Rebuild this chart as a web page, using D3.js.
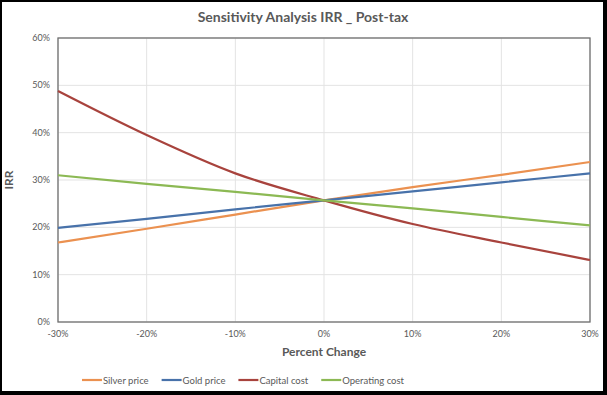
<!DOCTYPE html>
<html>
<head>
<meta charset="utf-8">
<script src="https://cdn.jsdelivr.net/npm/d3@7"></script>
<style>
  body { margin: 0; background: #000; }
  text { font-family: Lato, "Open Sans", Arial, sans-serif; fill: #595959; }
</style>
</head>
<body>
<div id="chart"></div>
<script>
const changes = [-0.3, -0.2, -0.1, 0, 0.1, 0.2, 0.3];
const silverPrice = [0.168, 0.197, 0.227, 0.257, 0.285, 0.311, 0.338];
const goldPrice = [0.199, 0.218, 0.238, 0.257, 0.276, 0.295, 0.314];
const capitalCost = [0.488, 0.395, 0.314, 0.257, 0.207, 0.168, 0.131];
const operatingCost = [0.310, 0.292, 0.275, 0.257, 0.240, 0.222, 0.204];
const xTicks = [-0.3, -0.2, -0.1, 0, 0.1, 0.2, 0.3];
const yTicks = [0, 0.1, 0.2, 0.3, 0.4, 0.5, 0.6];

const series = [
  {name: "Silver price", values: silverPrice, color: "#eb9150"},
  {name: "Gold price", values: goldPrice, color: "#4872aa"},
  {name: "Capital cost", values: capitalCost, color: "#a8433d"},
  {name: "Operating cost", values: operatingCost, color: "#8cb954"},
];

const w = 607, h = 395;
const m = {left: 58, right: 17, top: 38, bottom: 73};

const svg = d3.select("#chart").append("svg")
  .attr("width", w).attr("height", h);

// black frame like the screenshot
svg.append("rect").attr("width", w).attr("height", h).attr("fill", "#000");
svg.append("rect").attr("x", 2).attr("y", 2)
  .attr("width", 601).attr("height", 389).attr("fill", "#fff");

const x = d3.scaleLinear().domain([-0.3, 0.3]).range([m.left, w - m.right]);
const y = d3.scaleLinear().domain([0, 0.6]).range([h - m.bottom, m.top]);

// gridlines
svg.append("g").selectAll("line").data(yTicks).join("line")
  .attr("x1", m.left).attr("x2", w - m.right)
  .attr("y1", d => y(d)).attr("y2", d => y(d))
  .attr("stroke", "#e3e3e3").attr("stroke-width", 1);
svg.append("g").selectAll("line").data(xTicks).join("line")
  .attr("y1", m.top).attr("y2", h - m.bottom)
  .attr("x1", d => x(d)).attr("x2", d => x(d))
  .attr("stroke", "#e3e3e3").attr("stroke-width", 1);

// plot border
svg.append("rect")
  .attr("x", m.left).attr("y", m.top)
  .attr("width", w - m.left - m.right).attr("height", h - m.top - m.bottom)
  .attr("fill", "none").attr("stroke", "#707070").attr("stroke-width", 1.3);

// excel style labels use a plain hyphen
const pct = d => d3.format(".0%")(d).replace("\u2212", "-");

svg.append("g").selectAll("text").data(yTicks).join("text")
  .attr("x", m.left - 8).attr("y", d => y(d) + 3)
  .attr("text-anchor", "end").attr("font-size", 9)
  .text(pct);

svg.append("g").selectAll("text").data(xTicks).join("text")
  .attr("x", d => x(d)).attr("y", h - m.bottom + 15)
  .attr("text-anchor", "middle").attr("font-size", 9)
  .text(pct);

// lines
const line = d3.line()
  .x((d, i) => x(changes[i]))
  .y(d => y(d))
  .curve(d3.curveMonotoneX);

svg.append("g").selectAll("path").data(series).join("path")
  .attr("d", d => line(d.values))
  .attr("fill", "none")
  .attr("stroke", d => d.color)
  .attr("stroke-width", 2.2);

// titles
svg.append("text").attr("x", 303).attr("y", 22)
  .attr("text-anchor", "middle").attr("font-size", 14).attr("font-weight", "bold")
  .text("Sensitivity Analysis IRR _ Post-tax");

svg.append("text").attr("x", (m.left + w - m.right) / 2).attr("y", 356)
  .attr("text-anchor", "middle").attr("font-size", 12).attr("font-weight", "bold")
  .text("Percent Change");

svg.append("text")
  .attr("transform", `translate(13, ${(m.top + h - m.bottom) / 2}) rotate(-90)`)
  .attr("text-anchor", "middle").attr("font-size", 12).attr("font-weight", "bold")
  .text("IRR");

// legend: measure labels, then lay items out side by side, centred
const legend = svg.append("g");
const lg = legend.selectAll("g").data(series).join("g");
lg.append("line").attr("x1", 0).attr("x2", 20)
  .attr("stroke", d => d.color).attr("stroke-width", 2.2);
lg.append("text").attr("x", 21).attr("y", 3.5).attr("font-size", 9.5)
  .text(d => d.name);

let cursor = 0;
const gap = 13;
lg.each(function () {
  const tw = d3.select(this).select("text").node().getComputedTextLength();
  d3.select(this).attr("transform", `translate(${cursor}, 0)`);
  cursor += 21 + tw + gap;
});
const legendW = cursor - gap;
legend.attr("transform", `translate(${243 - legendW / 2}, 380)`);
</script>
</body>
</html>
